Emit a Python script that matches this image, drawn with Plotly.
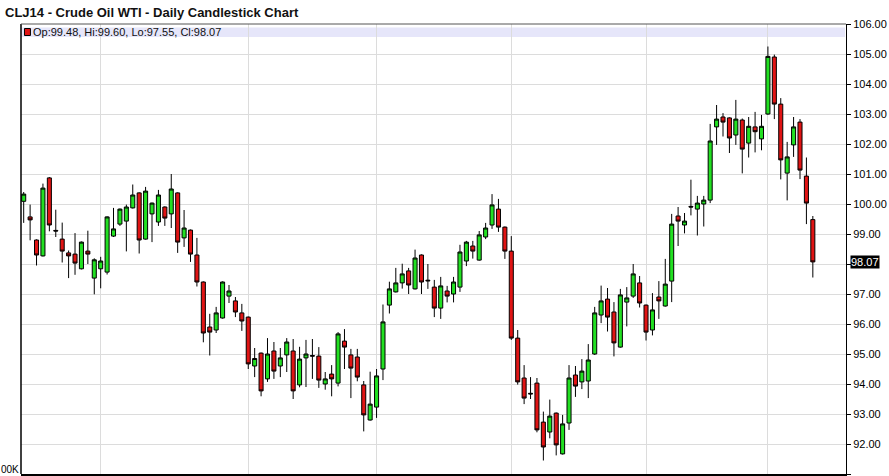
import plotly.graph_objects as go
import pandas as pd

# Trading days (Sep 13 2013 - Mar 12 2014), CME holidays removed
holidays = ["2013-11-28", "2013-12-25", "2014-01-01", "2014-01-20", "2014-02-17"]
dates = [d.strftime("%Y-%m-%d") for d in
         pd.bdate_range("2013-09-13", "2014-03-12", freq="C", holidays=holidays)]

opens = [100.09, 99.57, 98.80, 98.27, 100.87, 99.12, 98.83, 98.37, 98.33, 97.84,
         98.43, 97.53, 97.84, 97.73, 98.93, 99.33, 99.43, 99.87, 100.37, 98.83,
         99.67, 99.40, 99.90, 99.67, 100.37, 98.87, 99.13, 98.30, 97.40, 95.90,
         95.80, 96.20, 96.93, 96.77, 96.37, 96.23, 94.60, 95.03, 94.17, 95.10,
         94.60, 94.97, 95.10, 93.97, 94.87, 94.95, 94.93, 94.00, 94.33, 94.03,
         95.43, 94.97, 94.90, 93.97, 92.80, 93.23, 94.50, 96.63, 97.07, 97.37,
         97.77, 97.17, 98.30, 97.46, 97.23, 96.53, 97.10, 97.00, 97.23, 98.10,
         98.60, 98.13, 98.90, 99.30, 99.83, 99.23, 98.43, 95.53, 94.20, 93.69,
         94.03, 92.73, 92.40, 93.03, 91.67, 92.70, 94.30, 94.07, 94.10, 95.00,
         96.30, 96.83, 96.40, 95.23, 96.73, 96.93, 97.37, 96.63, 95.80, 96.90,
         96.60, 97.43, 99.60, 99.30, 99.92, 99.83, 100.00, 100.13, 102.57, 102.90,
         102.87, 102.30, 102.80, 102.03, 102.57, 102.17, 103.00, 104.90, 103.33, 101.03,
         101.97, 102.73, 100.93, 99.48]
highs = [100.40, 99.98, 98.82, 100.68, 100.90, 99.81, 99.38, 98.45, 99.03, 98.75,
         99.11, 98.19, 98.24, 99.59, 99.87, 99.85, 99.98, 100.65, 100.39, 100.57,
         100.05, 100.47, 99.92, 101.00, 100.39, 99.80, 99.15, 98.87, 97.42, 96.34,
         96.57, 97.42, 97.30, 96.90, 96.67, 96.25, 95.20, 95.05, 95.53, 95.40,
         95.20, 95.53, 95.50, 95.24, 95.47, 95.50, 95.23, 94.40, 94.63, 95.73,
         95.83, 95.17, 95.17, 94.10, 94.41, 94.50, 96.65, 97.41, 97.87, 98.01,
         97.87, 98.48, 98.32, 98.00, 97.47, 97.57, 97.27, 97.57, 98.64, 98.77,
         98.77, 99.10, 99.37, 100.33, 100.17, 99.25, 98.93, 95.80, 94.63, 94.23,
         94.20, 93.08, 93.48, 93.05, 92.97, 94.63, 94.60, 94.83, 95.33, 96.57,
         97.28, 97.20, 96.73, 97.17, 97.23, 98.00, 97.60, 96.65, 97.03, 97.43,
         98.17, 99.67, 99.90, 99.70, 100.81, 100.27, 100.27, 102.67, 103.30, 103.03,
         102.89, 103.47, 102.85, 102.90, 103.07, 102.97, 105.25, 104.98, 103.53, 102.07,
         102.90, 102.83, 101.55, 99.60]
lows = [99.37, 98.79, 97.95, 98.25, 99.09, 98.90, 98.05, 97.53, 97.64, 97.82,
        98.00, 96.99, 97.19, 97.65, 98.90, 99.27, 98.42, 99.85, 98.35, 98.81,
        98.73, 99.27, 99.27, 99.20, 98.37, 98.57, 98.07, 97.25, 95.39, 94.95,
        95.70, 96.18, 96.70, 96.23, 95.77, 94.50, 94.23, 93.59, 94.07, 94.17,
        94.23, 94.40, 93.50, 93.89, 93.90, 94.17, 93.87, 93.81, 93.59, 93.92,
        94.50, 93.53, 94.09, 92.42, 92.78, 92.87, 94.13, 96.35, 97.05, 97.18,
        97.00, 97.15, 97.00, 97.17, 96.23, 96.17, 96.72, 96.72, 97.07, 97.93,
        98.18, 98.11, 98.83, 99.17, 99.07, 98.17, 95.47, 93.98, 93.33, 93.50,
        92.39, 91.45, 92.19, 91.62, 91.65, 92.47, 93.57, 93.83, 93.53, 94.97,
        96.03, 95.75, 94.92, 95.21, 95.92, 96.87, 96.55, 95.45, 95.62, 96.17,
        96.58, 96.73, 98.60, 99.02, 99.62, 98.95, 99.25, 100.03, 101.97, 102.25,
        101.70, 101.97, 101.02, 101.55, 101.72, 101.79, 102.97, 102.83, 100.82, 100.12,
        101.57, 100.83, 99.33, 97.55]
closes = [100.33, 99.47, 98.30, 100.53, 99.30, 99.10, 98.43, 98.27, 98.03, 98.73,
          98.33, 98.14, 98.10, 99.57, 99.17, 99.83, 99.90, 100.30, 98.80, 100.43,
          100.03, 100.30, 99.53, 100.50, 98.73, 99.20, 98.33, 97.40, 95.70, 95.73,
          96.37, 97.40, 97.10, 96.40, 96.10, 94.67, 94.85, 93.77, 95.00, 94.43,
          94.87, 95.40, 93.77, 94.83, 95.00, 94.93, 94.13, 94.17, 94.17, 95.67,
          95.23, 94.53, 94.23, 92.97, 93.33, 94.27, 96.07, 97.17, 97.37, 97.67,
          97.30, 98.20, 97.40, 97.44, 96.53, 97.27, 96.93, 97.40, 98.40, 98.73,
          98.43, 98.97, 99.20, 99.97, 99.23, 98.43, 95.53, 94.07, 93.53, 93.67,
          92.47, 91.90, 92.93, 91.97, 92.67, 94.20, 93.93, 94.43, 94.80, 96.37,
          96.77, 96.23, 95.37, 96.97, 96.87, 97.67, 96.70, 95.73, 96.47, 96.77,
          97.33, 99.33, 99.43, 99.43, 99.90, 100.03, 100.13, 102.10, 102.83, 102.73,
          102.20, 102.83, 101.83, 102.59, 102.41, 102.59, 104.92, 103.33, 101.47, 101.57,
          102.57, 101.13, 100.03, 98.07]

month_starts = ["2013-10-01", "2013-11-01", "2013-12-02", "2014-01-02", "2014-02-03", "2014-03-03"]
price_ticks = list(range(91, 107))
price_labels = ["" if v == 98 else f"{v:.2f}" for v in price_ticks]
last = {"Op": opens[-1], "Hi": highs[-1], "Lo": lows[-1], "Cl": closes[-1]}
volume_label = "00K"

FONT = "Liberation Sans, Arial, sans-serif"
W, H = 889, 476
L, R, T, B = 21, 38, 24, 2
PW, PH = W - L - R, H - T - B

def px(x):  # pixel -> paper x
    return (x - L) / PW

def py(y):  # pixel -> paper y
    return (H - B - y) / PH

fig = go.Figure(go.Candlestick(
    x=dates, open=opens, high=highs, low=lows, close=closes,
    increasing=dict(fillcolor="#22E022", line=dict(color="black", width=1)),
    decreasing=dict(fillcolor="#E01414", line=dict(color="black", width=1)),
    whiskerwidth=0, showlegend=False, hoverinfo="x+y",
))

fig.update_layout(
    width=W, height=H,
    margin=dict(l=L, r=R, t=T, b=B),
    paper_bgcolor="white", plot_bgcolor="white",
    font=dict(family=FONT, size=11, color="black"),
    showlegend=False,
    boxgap=0.1,
    xaxis=dict(
        type="category", range=[-0.42, 128.17], rangeslider=dict(visible=False),
        tickmode="array", tickvals=month_starts, showticklabels=False, ticks="",
        showgrid=True, gridcolor="#DCDCDC", gridwidth=1,
        showline=True, linecolor="black", linewidth=3, zeroline=False,
    ),
    yaxis=dict(
        side="right", range=[91, 106],
        tickmode="array", tickvals=price_ticks, ticktext=price_labels,
        ticks="outside", ticklen=4, tickcolor="black",
        showgrid=True, gridcolor="#DCDCDC", gridwidth=1,
        showline=True, linecolor="black", linewidth=1, zeroline=False,
        tickfont=dict(family=FONT, size=11, color="black"),
    ),
    shapes=[
        dict(type="rect", xref="paper", yref="paper", x0=0, x1=px(850), y0=py(37), y1=py(27.5),
             fillcolor="#E6E6FA", line=dict(width=0), layer="below"),
        dict(type="line", xref="paper", yref="paper", x0=0, x1=0, y0=0, y1=1,
             line=dict(color="black", width=1.5)),
        dict(type="line", xref="paper", yref="paper", x0=0, x1=1, y0=1, y1=1,
             line=dict(color="#555555", width=1)),
        dict(type="rect", xref="paper", yref="paper", x0=px(24.5), x1=px(30.5), y0=py(35.5), y1=py(28.5),
             fillcolor="#E01414", line=dict(color="black", width=1)),
    ],
    annotations=[
        dict(text="<b>CLJ14 - Crude Oil WTI - Daily Candlestick Chart</b>", xref="paper", yref="paper",
             x=px(3), y=py(12.5), xanchor="left", yanchor="middle", showarrow=False,
             font=dict(family=FONT, size=13, color="#111111")),
        dict(text=", ".join(f"{k}:{v:.2f}" for k, v in last.items()), xref="paper", yref="paper",
             x=px(31.5), y=py(32.5), xanchor="left", yanchor="middle", showarrow=False,
             font=dict(family=FONT, size=11, color="#111111")),
        dict(text=f"{closes[-1]:.2f}", xref="paper", yref="y", x=1, y=closes[-1],
             xanchor="left", yanchor="middle", xshift=4, showarrow=False,
             bgcolor="black", borderpad=0, font=dict(family=FONT, size=11, color="white")),
        dict(text=volume_label, xref="paper", yref="paper", x=px(0), y=0, xanchor="left", yanchor="bottom",
             yshift=-2, borderpad=0, showarrow=False, font=dict(family=FONT, size=10, color="black")),
    ],
)

fig.write_html("out.html", config={"displayModeBar": False},
               post_script="document.body.style.margin='0';document.body.style.overflow='hidden';")
